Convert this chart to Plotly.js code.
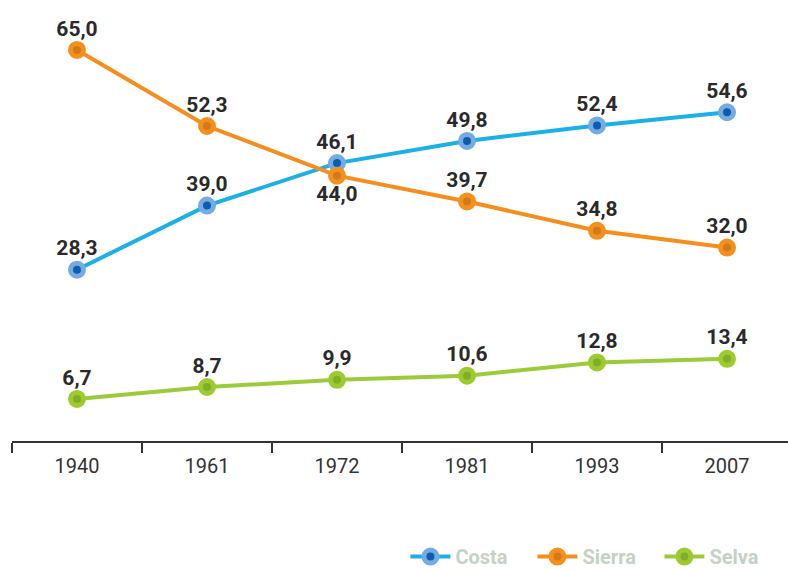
<!DOCTYPE html>
<html>
<head>
<meta charset="utf-8">
<script src="https://cdn.plot.ly/plotly-3.0.1.min.js"></script>
<style>html,body{margin:0;padding:0;background:#fff;}#chart{width:788px;height:570px;}</style>
</head>
<body>
<div id="chart"></div>
<script>
const years = ["1940", "1961", "1972", "1981", "1993", "2007"];
const costa = [28.3, 39.0, 46.1, 49.8, 52.4, 54.6];
const sierra = [65.0, 52.3, 44.0, 39.7, 34.8, 32.0];
const selva = [6.7, 8.7, 9.9, 10.6, 12.8, 13.4];
const sierraTextPos = ["top center", "top center", "bottom center", "top center", "top center", "top center"];

const fmt = v => v.toFixed(1).replace('.', ',');
const FONT = "Roboto, 'DejaVu Sans Condensed', sans-serif";
const labelFont = {family: FONT, size: 21, color: '#2a2a2a', weight: 700};

function series(name, y, lineColor, ringColor, dotColor, textpos) {
  return {
    x: years, y: y, name: name, type: 'scatter', mode: 'lines+markers+text',
    text: y.map(fmt), textposition: textpos || 'top center',
    textfont: labelFont,
    line: {color: lineColor, width: 4},
    marker: {size: 13, color: dotColor, line: {color: ringColor, width: 5}},
    cliponaxis: false
  };
}

const data = [
  series('Costa', costa, '#1cb0e8', '#74abe0', '#0d5cb0'),
  series('Sierra', sierra, '#f68e1e', '#f6901c', '#cf7a1c', sierraTextPos),
  series('Selva', selva, '#9ccb3a', '#9dcb2e', '#7fae2c')
];

const layout = {
  width: 788, height: 570,
  margin: {l: 12, r: 0, t: 0, b: 129, autoexpand: false},
  paper_bgcolor: '#fff', plot_bgcolor: '#fff',
  showlegend: true,
  legend: {
    orientation: 'h', x: 0.507, xanchor: 'left', y: -0.262, yanchor: 'middle',
    font: {family: FONT, size: 20, color: '#c4d1c4', weight: 700},
    itemwidth: 40, entrywidth: 72, entrywidthmode: 'pixels', traceorder: 'normal'
  },
  xaxis: {
    type: 'category', range: [-0.5, 5.469], showgrid: false, zeroline: false,
    showline: true, linecolor: '#333', linewidth: 1.5,
    ticks: 'outside', tickson: 'boundaries', ticklen: 10, tickcolor: '#333', tickwidth: 1.5,
    ticklabelstandoff: 6,
    tickfont: {family: FONT, size: 20, color: '#333'},
    fixedrange: true
  },
  yaxis: {
    range: [-0.32, 73.35], visible: false, showgrid: false, zeroline: false, fixedrange: true
  }
};

Plotly.newPlot('chart', data, layout, {displayModeBar: false, staticPlot: true});
</script>
</body>
</html>
